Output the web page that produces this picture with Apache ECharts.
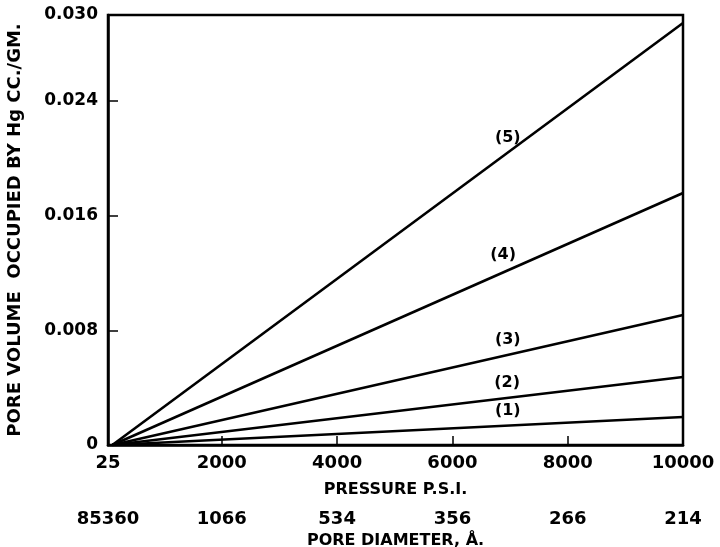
<!DOCTYPE html>
<html>
<head>
<meta charset="utf-8">
<script src="https://cdn.jsdelivr.net/npm/echarts@6/dist/echarts.min.js"></script>
<style>
  html, body { margin: 0; padding: 0; background: #fff; }
  #main { width: 720px; height: 547px; }
</style>
</head>
<body>
<div id="main"></div>
<script>
// pressure (psi) ticks and matching pore diameters (A)
const pressureTicks = [25, 2000, 4000, 6000, 8000, 10000];
const diameterLabels = ['85360', '1066', '534', '356', '266', '214'];
const volumeTicks = [0, 0.008, 0.016, 0.024, 0.030];

// each curve: pore volume at start and end pressure
const curveNames = ['(1)', '(2)', '(3)', '(4)', '(5)'];
const curveStart = [100, 100, 100, 100, 100];
const curveEnd = [0.00195, 0.00474, 0.00907, 0.01758, 0.02944];
const endPressure = 10000;

// where the curve numbers sit (data coords)
const labelX = [6960, 6950, 6960, 6880, 6960];
const labelY = [0.00237, 0.00433, 0.00733, 0.01326, 0.02142];

const FONT = 'DejaVu Sans';

var chartDom = document.getElementById('main');
var myChart = echarts.init(chartDom);

const lineSeries = curveNames.map(function (n, i) {
    return {
        type: 'line',
        name: n,
        symbol: 'none',
        silent: true,
        lineStyle: {color: '#000', width: 2.6},
        data: [[curveStart[i], 0], [endPressure, curveEnd[i]]]
    };
});

const labelSeries = {
    type: 'scatter',
    symbolSize: 0,
    silent: true,
    itemStyle: {color: '#000', opacity: 1},
    label: {
        show: true,
        position: 'inside',
        formatter: function (p) { return curveNames[p.dataIndex]; },
        color: '#000',
        fontFamily: FONT,
        fontWeight: 'bold',
        fontSize: 16
    },
    data: labelX.map(function (x, i) { return [x, labelY[i]]; })
};

var option = {
    backgroundColor: '#fff',
    animation: false,
    grid: {
        left: 108, right: 37, top: 15, bottom: 102,
        outerBoundsMode: 'none',
        containLabel: false,
        show: true, borderColor: '#000', borderWidth: 2.5
    },
    xAxis: [
        {
            type: 'value',
            min: 25,
            max: 10000,
            position: 'bottom',
            name: 'PRESSURE P.S.I.',
            nameLocation: 'middle',
            nameGap: 37,
            nameTextStyle: {color: '#000', fontFamily: FONT, fontWeight: 'bold', fontSize: 16},
            splitLine: {show: false},
            axisLine: {show: true, lineStyle: {color: '#000', width: 2.5}},
            axisTick: {
                show: true, inside: true, length: 9,
                customValues: [2000, 4000, 6000, 8000],
                lineStyle: {color: '#000', width: 1.5}
            },
            axisLabel: {
                customValues: pressureTicks,
                color: '#000', fontFamily: FONT, fontWeight: 'bold', fontSize: 18, margin: 9,
                formatter: function (v) { return String(v); }
            }
        },
        {
            type: 'value',
            min: 25,
            max: 10000,
            position: 'bottom',
            offset: 57,
            name: 'PORE DIAMETER, Å.',
            nameLocation: 'middle',
            nameGap: 31,
            nameTextStyle: {color: '#000', fontFamily: FONT, fontWeight: 'bold', fontSize: 16},
            splitLine: {show: false},
            axisLine: {show: false},
            axisTick: {show: false},
            axisLabel: {
                customValues: pressureTicks,
                color: '#000', fontFamily: FONT, fontWeight: 'bold', fontSize: 18, margin: 8,
                formatter: function (v) {
                    return diameterLabels[pressureTicks.indexOf(v)];
                }
            }
        }
    ],
    yAxis: {
        type: 'value',
        min: 0,
        max: 0.030,
        name: 'PORE VOLUME  OCCUPIED BY Hg CC./GM.',
        nameLocation: 'middle',
        nameGap: 84,
        nameTextStyle: {color: '#000', fontFamily: FONT, fontWeight: 'bold', fontSize: 18},
        splitLine: {show: false},
        axisLine: {show: true, lineStyle: {color: '#000', width: 2.5}},
        axisTick: {
            show: true, inside: true, length: 10,
            customValues: [0.008, 0.016, 0.024],
            lineStyle: {color: '#000', width: 1.5}
        },
        axisLabel: {
            customValues: volumeTicks,
            color: '#000', fontFamily: FONT, fontWeight: 'bold', fontSize: 17, margin: 10,
            formatter: function (v) { return v === 0 ? '0' : v.toFixed(3); }
        }
    },
    series: lineSeries.concat([labelSeries])
};

option && myChart.setOption(option);
</script>
</body>
</html>
